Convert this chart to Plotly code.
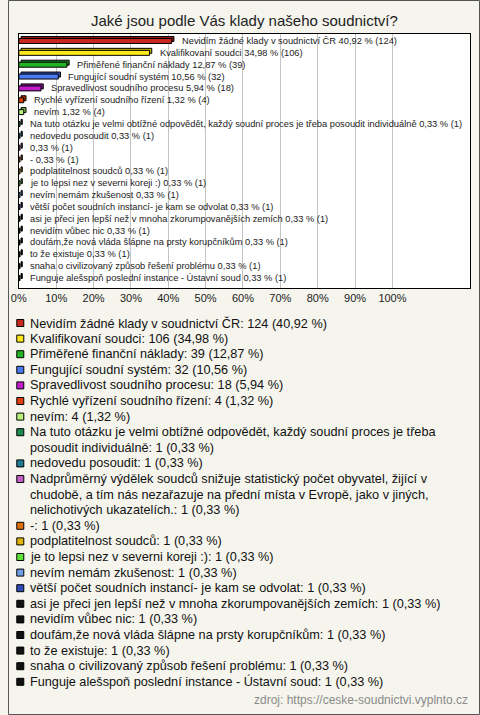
import textwrap
import plotly.graph_objects as go

# ---------------- data ----------------
categories = [
    "Nevidím žádné klady v soudnictví ČR",
    "Kvalifikovaní soudci",
    "Přiměřené finanční náklady",
    "Fungující soudní systém",
    "Spravedlivost soudního procesu",
    "Rychlé vyřízení soudního řízení",
    "nevím",
    "Na tuto otázku je velmi obtížné odpovědět, každý soudní proces je třeba posoudit individuálně",
    "nedovedu posoudit",
    "Nadprůměrný výdělek soudců snižuje statistický počet obyvatel, žijící v chudobě, a tím nás nezařazuje na přední místa v Evropě, jako v jiných, nelichotivých ukazatelích.",
    "-",
    "podplatitelnost soudců",
    "je to lepsi nez v severni koreji :)",
    "nevím nemám zkušenost",
    "větší počet soudních instancí- je kam se odvolat",
    "asi je přeci jen lepší než v mnoha zkorumpovanějších zemích",
    "nevidím vůbec nic",
    "doufám,že nová vláda šlápne na prsty korupčníkům",
    "to že existuje",
    "snaha o civilizovaný způsob řešení problému",
    "Funguje alešspoň poslední instance - Ústavní soud",
]
counts = [124, 106, 39, 32, 18, 4, 4, 1, 1, 1, 1, 1, 1, 1, 1, 1, 1, 1, 1, 1, 1]
percents = [40.92, 34.98, 12.87, 10.56, 5.94, 1.32, 1.32, 0.33, 0.33, 0.33, 0.33,
            0.33, 0.33, 0.33, 0.33, 0.33, 0.33, 0.33, 0.33, 0.33, 0.33]
# label shown next to the bar (the very long one is not shown in the chart)
bar_labels = [c if i != 9 else "" for i, c in enumerate(categories)]
colors = [
    "#c8281e", "#ffe81a", "#22b422", "#4a7af0", "#c01ccc", "#e0400c", "#b8f07a",
    "#1a8a4e", "#1f7a92", "#c060c8", "#e0700c", "#e0b40a", "#5ee03a", "#6e9ee8",
    "#2f4cb4", "#111111", "#111111", "#111111", "#111111", "#111111", "#111111",
]
depth_colors = [
    "#8e1a12", "#c8b400", "#178017", "#2f55b0", "#8a1294", "#a82c06", "#86b858",
    "#126238", "#145668", "#8c428f", "#a85006", "#a88406", "#40a826", "#4c72b0",
    "#1f3480", "#000000", "#000000", "#000000", "#000000", "#000000", "#000000",
]
tick_vals = [0, 10, 20, 30, 40, 50, 60, 70, 80, 90, 100]
tick_text = [f"{v}%" for v in tick_vals]
title_text = "Jaké jsou podle Vás klady našeho soudnictví?"
source_text = "zdroj: https://ceske-soudnictvi.vyplnto.cz"

# ---------------- helpers ----------------
W, H = 480, 715
FONT = "Liberation Sans, Arial, sans-serif"
BG = "#f5f5ed"
BAR_W = 0.42          # bar thickness (category units)
DEPTH_UP = 0.17       # 3-D depth upward (category units ~2px)
DEPTH_RIGHT = 0.6     # 3-D depth to the right (axis units ~2px)


def fmt(v):
    return f"{v:.2f}".replace(".", ",")


def py(px):  # pixel from top -> paper y
    return 1 - px / H


def pxx(px):
    return px / W


bar_text = [(f"{lab} " if lab else "") + f"{fmt(p)} % ({c})"
            for lab, p, c in zip(bar_labels, percents, counts)]

fig = go.Figure()

# 3-D "depth" of the bars (back face)
fig.add_trace(go.Bar(
    x=percents, y=categories, orientation="h", base=DEPTH_RIGHT,
    width=BAR_W, offset=-BAR_W / 2 - DEPTH_UP,
    marker=dict(color=depth_colors, line=dict(color="#000000", width=1)),
    hoverinfo="skip", showlegend=False, xaxis="x", yaxis="y",
))
# front face of the bars
fig.add_trace(go.Bar(
    x=percents, y=categories, orientation="h",
    width=BAR_W, offset=-BAR_W / 2,
    marker=dict(color=colors, line=dict(color="#000000", width=1)),
    hoverinfo="skip", showlegend=False, xaxis="x", yaxis="y",
))

annotations = []
# value labels next to the bars
for cat, p, t in zip(categories, percents, bar_text):
    annotations.append(dict(
        x=p, y=cat, xref="x", yref="y", text=t, showarrow=False,
        xanchor="left", yanchor="middle", xshift=8,
        font=dict(family=FONT, size=9.3, color="#222222"),
    ))

# legend (drawn as its own little subplot)
leg_x, leg_y, leg_c = [], [], []
line_idx = 0
for cat, c, p, col in zip(categories, counts, percents, colors):
    full = f"{cat}: {c} ({fmt(p)} %)"
    lines = textwrap.wrap(full, 72)
    leg_x.append(12.5)
    leg_y.append(line_idx)
    leg_c.append(col)
    for ln in lines:
        annotations.append(dict(
            x=20, y=line_idx, xref="x2", yref="y2", text=ln, showarrow=False,
            xanchor="left", yanchor="middle",
            font=dict(family=FONT, size=12.7, color="#111111"),
        ))
        line_idx += 1

fig.add_trace(go.Scatter(
    x=leg_x, y=leg_y, mode="markers",
    marker=dict(symbol="square", size=7, color=leg_c,
                line=dict(color="#000000", width=1)),
    hoverinfo="skip", showlegend=False, xaxis="x2", yaxis="y2",
))

n_lines = line_idx

annotations.append(dict(
    x=0.5, y=py(20), xref="paper", yref="paper", text=title_text,
    showarrow=False, xanchor="center", yanchor="middle",
    font=dict(family=FONT, size=15, color="#222222"),
))
annotations.append(dict(
    x=pxx(470), y=py(700), xref="paper", yref="paper", text=source_text,
    showarrow=False, xanchor="right", yanchor="middle",
    font=dict(family=FONT, size=12, color="#8a8a8a"),
))

shapes = [
    # white plot background
    dict(type="rect", xref="x domain", yref="y domain", x0=0, x1=1, y0=0, y1=1,
         fillcolor="#ffffff", line=dict(width=0), layer="below"),
    # outer frame
    dict(type="rect", xref="paper", yref="paper", x0=pxx(0.5), x1=pxx(479.5),
         y0=py(714.5), y1=py(0.5), line=dict(color="#555555", width=1),
         fillcolor="rgba(0,0,0,0)", layer="above"),
]

fig.update_layout(
    width=W, height=H,
    margin=dict(l=0, r=0, t=0, b=0),
    paper_bgcolor=BG, plot_bgcolor=BG,
    font=dict(family=FONT, color="#222222"),
    showlegend=False, barmode="overlay",
    annotations=annotations,
    shapes=shapes,
    xaxis=dict(
        domain=[pxx(11), pxx(470)], range=[0, 120.8],
        tickmode="array", tickvals=tick_vals, ticktext=tick_text,
        tickfont=dict(family=FONT, size=11, color="#222222"),
        showgrid=True, gridcolor="#c4c4c4", gridwidth=1,
        zeroline=False, showline=True, linecolor="#000000", linewidth=1,
        mirror=True, ticks="", ticklen=0, anchor="y", fixedrange=True,
    ),
    yaxis=dict(
        domain=[py(288), py(34)], type="category",
        categoryorder="array", categoryarray=categories,
        range=[20.84, -0.59], showticklabels=False, showgrid=False,
        zeroline=False, showline=True, linecolor="#000000", linewidth=1,
        mirror=True, ticks="", anchor="x", fixedrange=True,
    ),
    xaxis2=dict(domain=[0, 1], range=[0, W], visible=False, anchor="y2",
                fixedrange=True),
    yaxis2=dict(domain=[py(315.2 + 15.6 * n_lines), py(315.2)],
                range=[n_lines - 0.5, -0.5], visible=False, anchor="x2",
                fixedrange=True),
)

fig.write_html("out.html", config={"displayModeBar": False},
               post_script="document.body.style.margin='0';")
